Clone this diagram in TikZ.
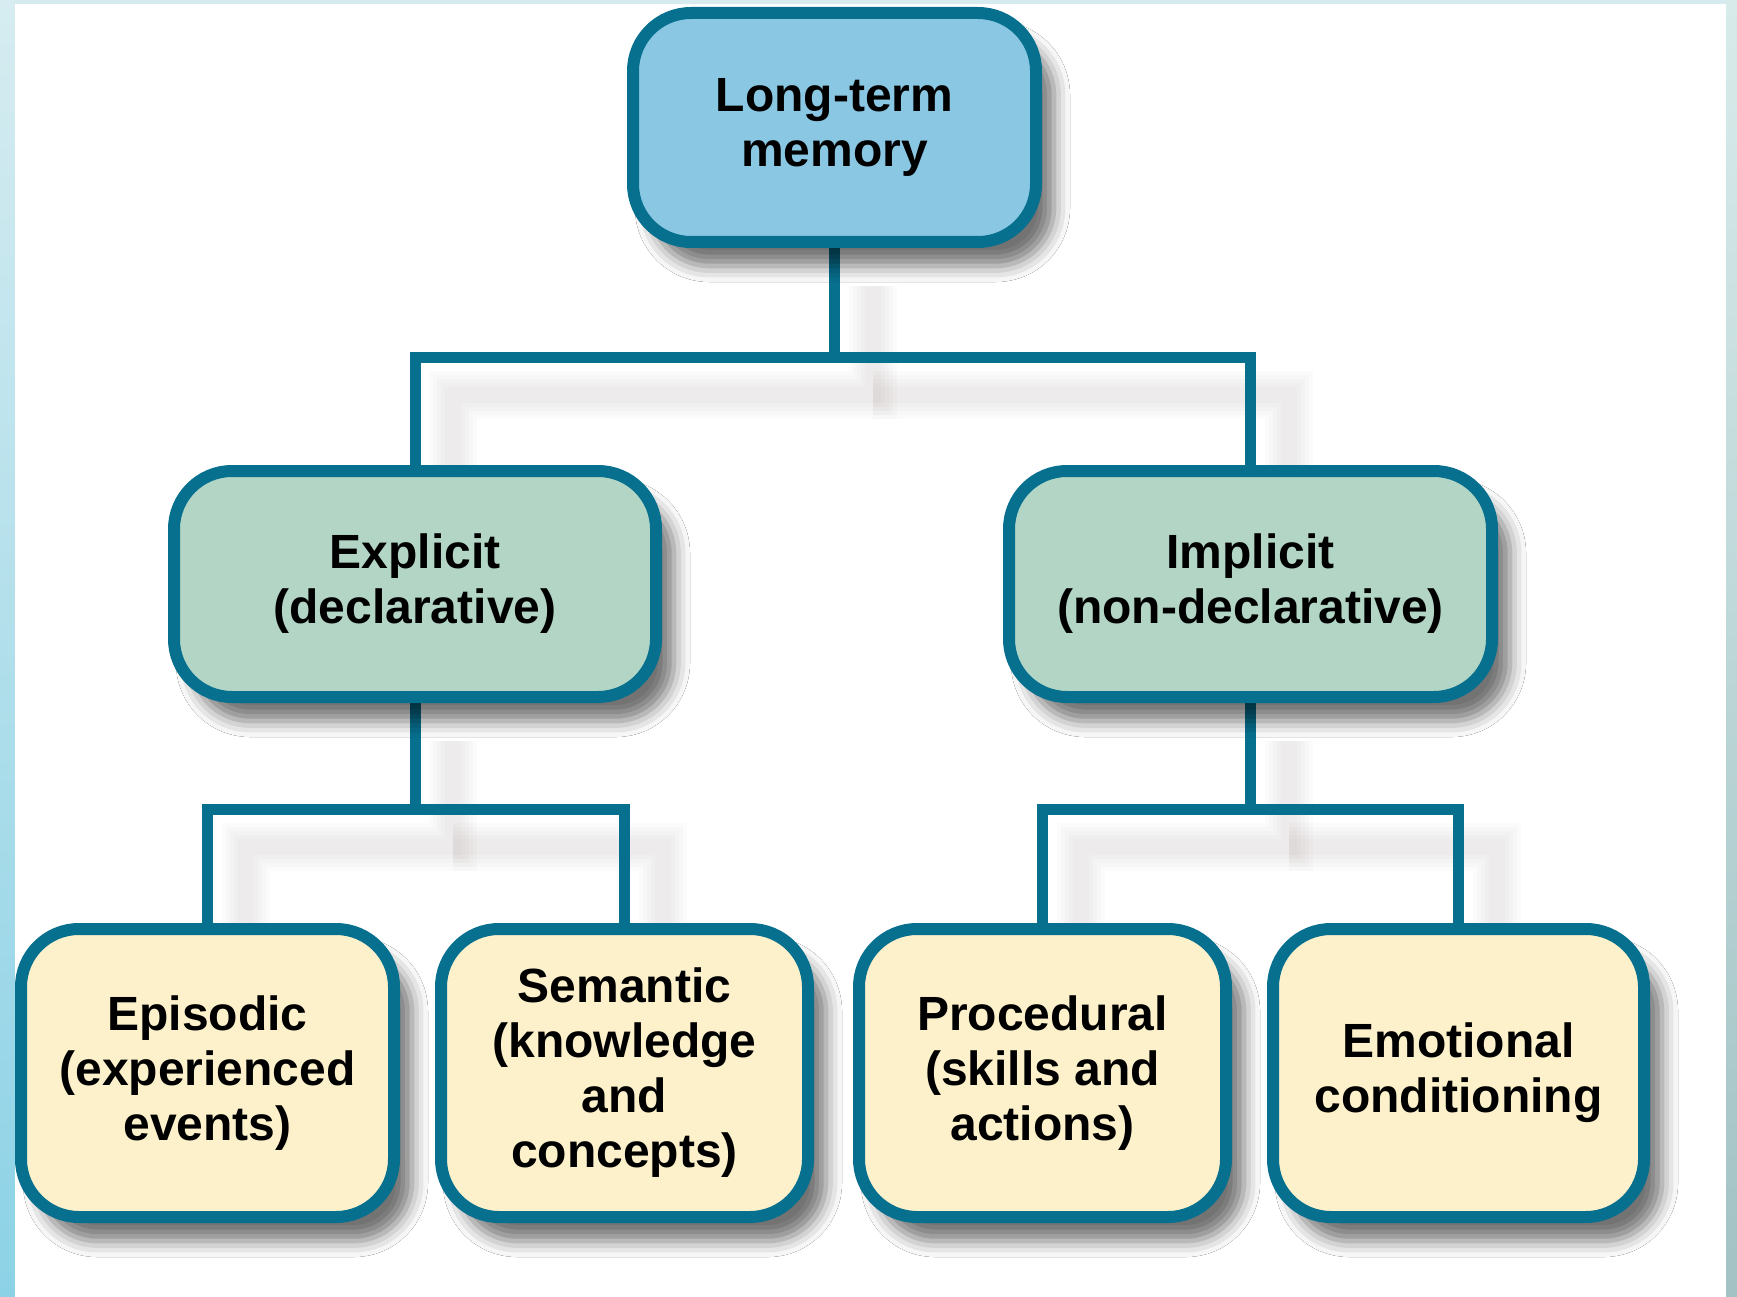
\documentclass[tikz,border=0pt]{standalone}
\usepackage{fontspec}
\setmainfont{Liberation Sans}
\usetikzlibrary{shadows.blur,backgrounds}
\definecolor{bord}{HTML}{07708F}
\definecolor{topfill}{HTML}{89C7E3}
\definecolor{midfill}{HTML}{B2D5C5}
\definecolor{lowfill}{HTML}{FCF1CB}
\definecolor{lefttop}{HTML}{D6ECF0}
\definecolor{leftbot}{HTML}{8CD2E6}
\definecolor{righttop}{HTML}{D8EBEB}
\definecolor{rightmid}{HTML}{B0D8DA}
\definecolor{rightbot}{HTML}{A2C2C4}
\definecolor{topband}{HTML}{D6EBEE}
\definecolor{shcol}{HTML}{5A4A46}
\begin{document}
\begin{tikzpicture}[x=1pt,y=-1pt,
  box/.style={draw=bord, line width=12pt, rounded corners=58pt, align=center,
    inner sep=0pt, font=\fontsize{48}{55}\selectfont\bfseries,
    blur shadow={shadow xshift=18pt, shadow yshift=-24pt, shadow blur radius=16pt, shadow opacity=55}},
  conn/.style={draw=bord, line width=11pt},
  cshadow/.style={draw=shcol, line width=#1, opacity=0.018}]
\useasboundingbox (0,0) rectangle (1737,1297);

% nodes
\node[box, fill=topfill, minimum width=403pt, minimum height=229pt] (ltm) at (834.5,127.5) {Long-term\\memory};
\node[box, fill=midfill, minimum width=482pt, minimum height=226pt] (exp) at (415,584) {Explicit\\(declarative)};
\node[box, fill=midfill, minimum width=483pt, minimum height=226pt] (imp) at (1250.5,584) {Implicit\\(non-declarative)};
\node[box, fill=lowfill, minimum width=373pt, minimum height=288pt] (epi) at (207.5,1073) {Episodic\\(experienced\\events)};
\node[box, fill=lowfill, minimum width=367pt, minimum height=288pt] (sem) at (624.5,1073) {Semantic\\(knowledge\\and\\concepts)};
\node[box, fill=lowfill, minimum width=367pt, minimum height=288pt] (pro) at (1042.5,1073) {Procedural\\(skills and\\actions)};
\node[box, fill=lowfill, minimum width=371pt, minimum height=288pt] (emo) at (1458.5,1073) {Emotional\\conditioning};

\coordinate (j1) at (834.5,357);
\coordinate (j2) at (415,809);
\coordinate (j3) at (1250.5,809);

\begin{scope}[on background layer]
% background frame
\fill[topband] (0,0) rectangle (1737,4);
\shade[top color=lefttop, bottom color=leftbot] (0,0) rectangle (15,1297);
\shade[top color=righttop, middle color=rightmid, bottom color=rightbot] (1726,0) rectangle (1737,1297);
\fill[white] (15,4) rectangle (1726,1297);
% connector shadows
\foreach \w in {48,40,32,24,16}{
  \draw[cshadow=\w pt] ([shift={(38,38)}]ltm.south) -- ([shift={(38,38)}]j1) -| ([shift={(38,38)}]exp.north);
  \draw[cshadow=\w pt] ([shift={(38,38)}]j1) -| ([shift={(38,38)}]imp.north);
  \draw[cshadow=\w pt] ([shift={(38,38)}]exp.south) -- ([shift={(38,38)}]j2) -| ([shift={(38,38)}]epi.north);
  \draw[cshadow=\w pt] ([shift={(38,38)}]j2) -| ([shift={(38,38)}]sem.north);
  \draw[cshadow=\w pt] ([shift={(38,38)}]imp.south) -- ([shift={(38,38)}]j3) -| ([shift={(38,38)}]pro.north);
  \draw[cshadow=\w pt] ([shift={(38,38)}]j3) -| ([shift={(38,38)}]emo.north);
}
% connectors
\draw[conn] (ltm.south) -- (j1) -| (exp.north);
\draw[conn] (j1) -| (imp.north);
\draw[conn] (exp.south) -- (j2) -| (epi.north);
\draw[conn] (j2) -| (sem.north);
\draw[conn] (imp.south) -- (j3) -| (pro.north);
\draw[conn] (j3) -| (emo.north);
\end{scope}
\end{tikzpicture}
\end{document}
